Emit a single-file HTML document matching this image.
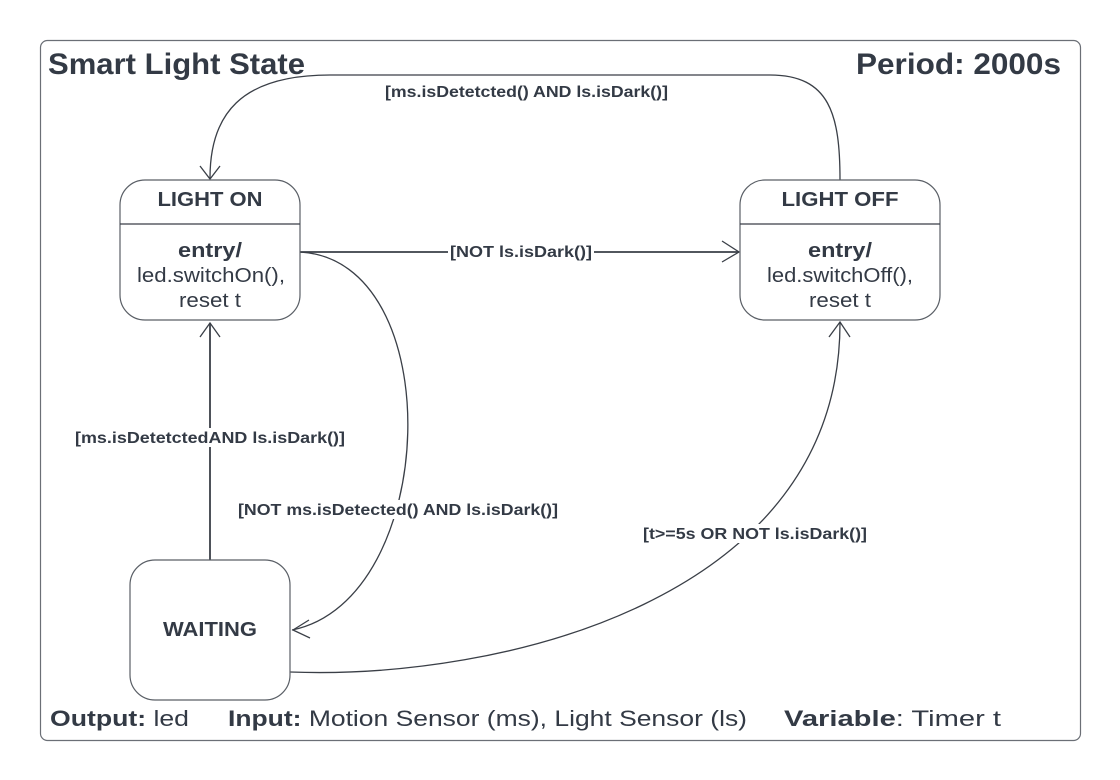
<!DOCTYPE html>
<html><head><meta charset="utf-8"><style>
html,body{margin:0;padding:0;background:#fff;}
svg{display:block;font-family:"Liberation Sans",Arial,sans-serif;}
</style></head><body>
<svg width="1120" height="780" viewBox="0 0 1120 780" xmlns="http://www.w3.org/2000/svg">
<rect x="40.5" y="40.5" width="1040" height="700" rx="7" fill="#fff" stroke="#6b6f76" stroke-width="1.2"/>
<text x="48" y="74" font-size="30" font-weight="bold" fill="#333a45" textLength="257" lengthAdjust="spacingAndGlyphs">Smart Light State</text>
<text x="856" y="74" font-size="30" font-weight="bold" fill="#333a45" textLength="205" lengthAdjust="spacingAndGlyphs">Period: 2000s</text>

<g fill="none" stroke="#3a3f47" stroke-width="1.3">
<path d="M840,180 C840,115 830,75 770,75 L330,75 C240,75 210,115 210,178"/>
<path d="M200,166 L210,179 L220,166"/>
<path d="M300,252 L739,252" stroke-width="1.8"/>
<path d="M722,241 L739,252 L722,262"/>
<path d="M300,252 C450,260 440,600 292,630"/>
<path d="M309,620 L293,630 L310,638"/>
<path d="M210,560 L210,323" stroke-width="1.8"/>
<path d="M200,337 L210,323 L220,337"/>
<path d="M290,672 C500,680 840,600 840,323"/>
<path d="M829,337 L840,322 L850,337"/>
</g>

<g fill="#fff" stroke="#5a5f66" stroke-width="1.2">
<rect x="120" y="180" width="180" height="140" rx="25"/>
<rect x="740" y="180" width="200" height="140" rx="25"/>
<rect x="130" y="560" width="160" height="140" rx="25"/>
</g>
<line x1="120" y1="224" x2="300" y2="224" stroke="#3a3f47" stroke-width="1.2"/>
<line x1="740" y1="224" x2="940" y2="224" stroke="#3a3f47" stroke-width="1.2"/>

<g fill="#333a45" text-anchor="middle">
<text x="210" y="206" font-size="20" font-weight="bold" textLength="105" lengthAdjust="spacingAndGlyphs">LIGHT ON</text>
<text x="210" y="257" font-size="20" font-weight="bold" textLength="64" lengthAdjust="spacingAndGlyphs">entry/</text>
<text x="211" y="282" font-size="20" textLength="148" lengthAdjust="spacingAndGlyphs">led.switchOn(),</text>
<text x="210" y="307" font-size="20" textLength="62" lengthAdjust="spacingAndGlyphs">reset t</text>
<text x="840" y="206" font-size="20" font-weight="bold" textLength="117" lengthAdjust="spacingAndGlyphs">LIGHT OFF</text>
<text x="840" y="257" font-size="20" font-weight="bold" textLength="64" lengthAdjust="spacingAndGlyphs">entry/</text>
<text x="840" y="282" font-size="20" textLength="146" lengthAdjust="spacingAndGlyphs">led.switchOff(),</text>
<text x="840" y="307" font-size="20" textLength="62" lengthAdjust="spacingAndGlyphs">reset t</text>
<text x="210" y="636" font-size="20" font-weight="bold" textLength="94" lengthAdjust="spacingAndGlyphs">WAITING</text>
</g>

<g font-size="16" font-weight="bold" fill="#333a45">
<rect x="382" y="81" width="290" height="20" fill="#fff"/>
<text x="385" y="97" textLength="283" lengthAdjust="spacingAndGlyphs">[ms.isDetetcted() AND ls.isDark()]</text>
<rect x="448" y="242" width="146" height="19" fill="#fff"/>
<text x="450" y="257" textLength="142" lengthAdjust="spacingAndGlyphs">[NOT ls.isDark()]</text>
<rect x="73" y="428" width="275" height="19" fill="#fff"/>
<text x="75" y="443" textLength="270" lengthAdjust="spacingAndGlyphs">[ms.isDetetctedAND ls.isDark()]</text>
<rect x="236" y="500" width="325" height="19" fill="#fff"/>
<text x="238" y="515" textLength="320" lengthAdjust="spacingAndGlyphs">[NOT ms.isDetected() AND ls.isDark()]</text>
<rect x="641" y="524" width="228" height="19" fill="#fff"/>
<text x="643" y="539" textLength="224" lengthAdjust="spacingAndGlyphs">[t&gt;=5s OR NOT ls.isDark()]</text>
</g>

<g font-size="22" fill="#333a45">
<text x="50" y="726" textLength="139" lengthAdjust="spacingAndGlyphs"><tspan font-weight="bold">Output:</tspan> led</text>
<text x="228" y="726" textLength="519" lengthAdjust="spacingAndGlyphs"><tspan font-weight="bold">Input:</tspan> Motion Sensor (ms), Light Sensor (ls)</text>
<text x="784" y="726" textLength="217" lengthAdjust="spacingAndGlyphs"><tspan font-weight="bold">Variable</tspan>: Timer t</text>
</g>
</svg>
</body></html>
